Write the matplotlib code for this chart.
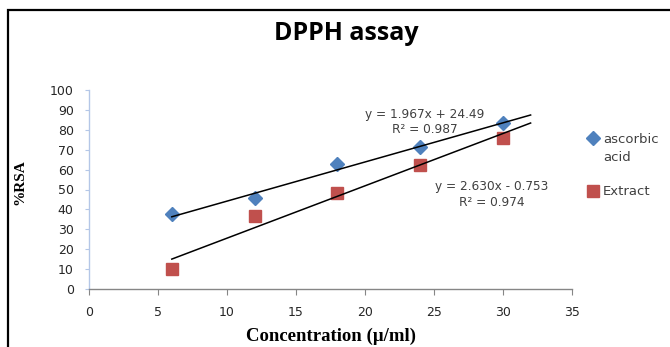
import matplotlib
matplotlib.use("Agg")
import matplotlib.pyplot as plt
from matplotlib.lines import Line2D
from matplotlib.patches import Rectangle
import numpy as np

# Data
conc = [6, 12, 18, 24, 30]
ascorbic = [37.5, 45.5, 63.0, 71.5, 83.5]
extract = [10.0, 36.5, 48.0, 62.5, 76.0]
fit_ascorbic = (1.967, 24.49)
fit_extract = (2.630, -0.753)
r2_ascorbic = 0.987
r2_extract = 0.974
trend_range = (6, 32)
series_labels = ["ascorbic\nacid", "Extract"]
title = "DPPH assay"
xlabel = "Concentration (\u00b5/ml)"
ylabel = "%RSA"
xticks = [0, 5, 10, 15, 20, 25, 30, 35]
yticks = [0, 10, 20, 30, 40, 50, 60, 70, 80, 90, 100]

W, H = 670, 347
fig = plt.figure(figsize=(W / 100, H / 100), dpi=100)
fig.patch.set_facecolor("white")

def fx(px):
    return px / W

def fy(py):
    return 1 - py / H

ax = fig.add_axes([fx(89), fy(289), fx(572) - fx(89), fy(90) - fy(289)])
ax.set_xlim(0, 35)
ax.set_ylim(0, 100)

blue = "#4F81BD"
red = "#C0504D"

ax.plot(conc, ascorbic, linestyle="none", marker="D", ms=6.8, color=blue, zorder=3)
ax.plot(conc, extract, linestyle="none", marker="s", ms=8.8, color=red, zorder=3)

xs = np.array(trend_range, dtype=float)
ax.plot(xs, fit_ascorbic[0] * xs + fit_ascorbic[1], color="black", lw=1.1, zorder=4)
ax.plot(xs, fit_extract[0] * xs + fit_extract[1], color="black", lw=1.1, zorder=4)

txtcol = "#404040"
ax.text(24.3, 83.8, f"y = {fit_ascorbic[0]:.3f}x + {fit_ascorbic[1]:.2f}\nR\u00b2 = {r2_ascorbic:.3f}",
        ha="center", va="center", multialignment="center", fontsize=8.7, color=txtcol,
        family="DejaVu Sans", linespacing=1.25)
ax.text(29.2, 47.5, f"y = {fit_extract[0]:.3f}x - {abs(fit_extract[1]):.3f}\nR\u00b2 = {r2_extract:.3f}",
        ha="center", va="center", multialignment="center", fontsize=8.7, color=txtcol,
        family="DejaVu Sans", linespacing=1.25)

for s in ["top", "right"]:
    ax.spines[s].set_visible(False)
ax.spines["left"].set_color("#B4C7E7")
ax.spines["bottom"].set_color("#868686")
ax.spines["left"].set_linewidth(1.0)
ax.spines["bottom"].set_linewidth(1.0)

ax.set_xticks(xticks)
ax.set_yticks(yticks)
ax.tick_params(axis="y", direction="out", length=3, color="#B4C7E7", pad=8,
               labelsize=9, labelcolor="#262626")
ax.tick_params(axis="x", direction="out", length=4, color="#868686", pad=8,
               labelsize=9, labelcolor="#262626")
for lab in ax.get_xticklabels() + ax.get_yticklabels():
    lab.set_family("DejaVu Sans")

fig.text(fx(20), fy(182), ylabel, rotation=90, ha="center", va="center",
         family="Liberation Serif", fontweight="bold", fontsize=11)
fig.text(fx(331), fy(345), xlabel, ha="center", va="bottom",
         family="Liberation Serif", fontweight="bold", fontsize=13.5)

fig.text(fx(346), fy(33), title, ha="center", va="center", fontsize=18,
         fontweight="bold", family="Open Sans", color="black")

# Legend (manual)
fig.add_artist(Line2D([fx(593)], [fy(138)], marker="D", ms=6.8, color=blue,
                      linestyle="none", transform=fig.transFigure))
fig.add_artist(Line2D([fx(593)], [fy(191)], marker="s", ms=8.8, color=red,
                      linestyle="none", transform=fig.transFigure))
fig.text(fx(603), fy(161), series_labels[0], ha="left", va="baseline", fontsize=9.5,
         family="DejaVu Sans", color=txtcol, linespacing=1.45)
fig.text(fx(603), fy(195), series_labels[1], ha="left", va="baseline", fontsize=9.5,
         family="DejaVu Sans", color=txtcol)

# Border
fig.add_artist(Rectangle((fx(8), -0.2), 1.5, fy(10) + 0.2, fill=False,
                         edgecolor="black", lw=1.6, transform=fig.transFigure))

fig.savefig("out.png", dpi=100)
